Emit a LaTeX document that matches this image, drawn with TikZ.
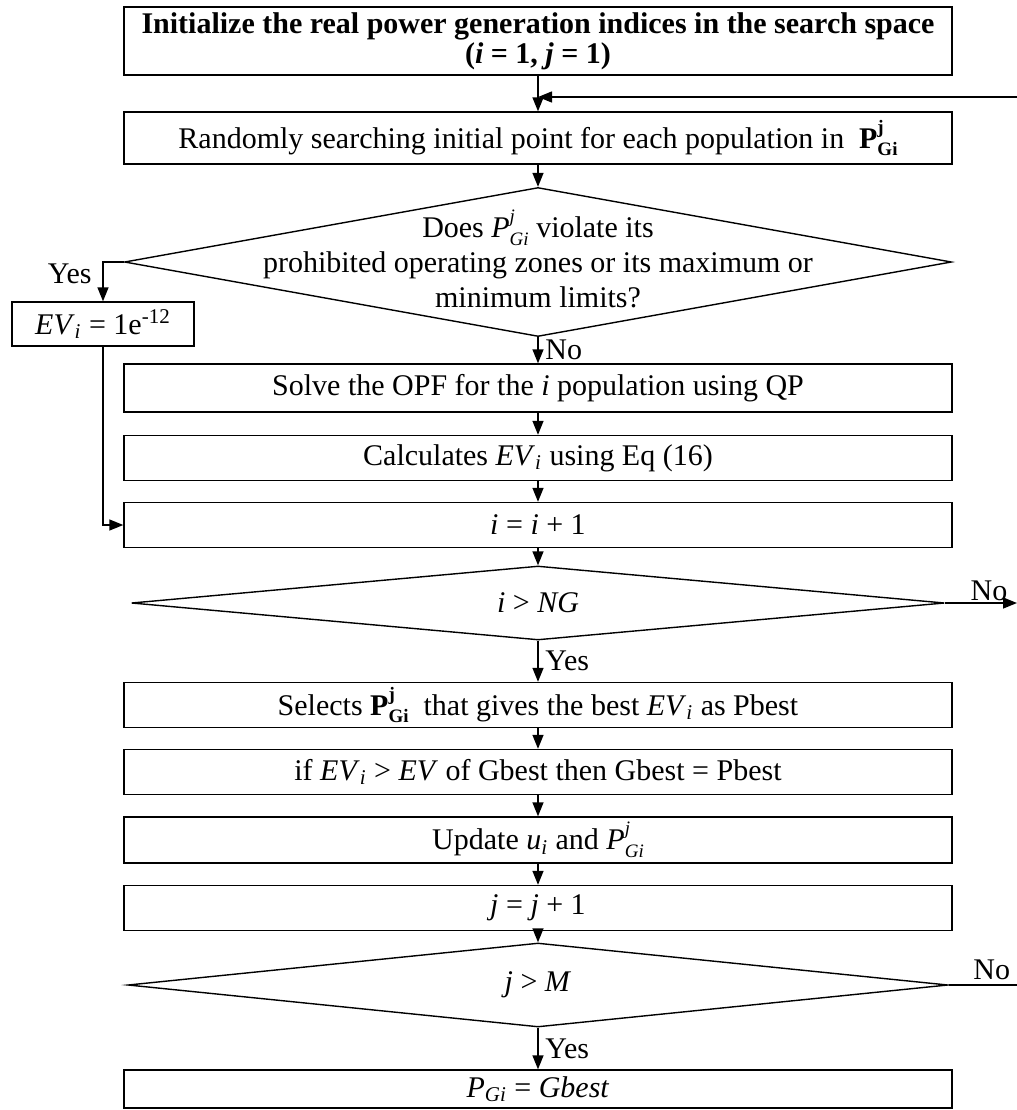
\documentclass[tikz,border=0pt]{standalone}
\usepackage{fontspec}
\setmainfont{Liberation Serif}
\usetikzlibrary{shapes.geometric,arrows.meta}

\newcommand{\supsub}[2]{\rlap{\raisebox{0.5em}{\fontsize{9.5}{10}\selectfont #1}}\raisebox{-0.25em}{\fontsize{9.5}{10}\selectfont #2}}
\newcommand{\vsub}[3]{\textit{#1}\supsub{\textit{#3}}{\textit{#2}}}
\newcommand{\PGb}{\textbf{P}\supsub{\textbf{j}}{\textbf{Gi}}}
\newcommand{\EVi}{\textit{EV}\textsubscript{\textit{i}}}

\begin{document}
\begin{tikzpicture}[x=0.5pt,y=-0.5pt,
    font=\fontsize{15}{17}\selectfont,
    line width=0.7pt,
    >={Triangle[length=7pt,width=5.5pt]},
    procbox/.style={draw, minimum width=414pt, inner sep=0pt},
    decbox/.style={draw, diamond, inner sep=0pt}]
  \useasboundingbox (0,0) rectangle (1017,1110);

  \node[procbox, minimum height=34pt, align=center,
        font=\fontsize{15}{15}\selectfont\bfseries] (init) at (538,41)
        {Initialize the real power generation indices in the search space\\
         (\textit{i} = 1, \textit{j} = 1)};
  \node[procbox, minimum height=26pt] (rand) at (538,138)
        {Randomly searching initial point for each population in\ \ \PGb};
  \node[decbox, minimum width=413.5pt, minimum height=74.5pt,
        label={[align=center, font=\fontsize{15}{17.5}\selectfont, yshift=1.5pt]center:Does \vsub{P}{Gi}{j} violate its\\
         prohibited operating zones or its maximum or\\
         minimum limits?}] (viol) at (538,262) {};
  \node[draw, minimum width=91pt, minimum height=22pt, inner sep=0pt] (pen) at (103,324)
        {\EVi\ = 1e\textsuperscript{-12}};
  \node[procbox, minimum height=24pt] (opf) at (538,388)
        {Solve the OPF for the \textit{i} population using QP};
  \node[procbox, minimum height=22.5pt] (calc) at (538,458)
        {Calculates \EVi\ using Eq (16)};
  \node[procbox, minimum height=22.5pt] (inci) at (538,525)
        {\textit{i} = \textit{i} + 1};
  \node[decbox, minimum width=406.5pt, minimum height=37pt,
        label={center:\textit{i} > \textit{NG}}] (ng) at (538,603) {};
  \node[procbox, minimum height=22.5pt] (pbest) at (538,705)
        {Selects \PGb\ \ that gives the best \EVi\ as Pbest};
  \node[procbox, minimum height=22.5pt] (gbest) at (538,772)
        {if \EVi\ > \textit{EV} of Gbest then Gbest = Pbest};
  \node[procbox, minimum height=23pt] (upd) at (538,840)
        {Update \textit{u}\textsubscript{\textit{i}} and \vsub{P}{Gi}{j}};
  \node[procbox, minimum height=22.5pt] (incj) at (538,908)
        {\textit{j} = \textit{j} + 1};
  \node[decbox, minimum width=410pt, minimum height=42pt,
        label={center:\textit{j} > \textit{M}}] (jm) at (538,985) {};
  \node[procbox, minimum height=19pt] (res) at (538,1089)
        {\textit{P}\textsubscript{\textit{Gi}} = \textit{Gbest}};

  \coordinate (back) at (1017,97);
  \coordinate (outng) at (1017,603);
  \coordinate (outjm) at (1017,985);

  \draw[->] (init) -- (rand);
  \draw[->] (back) -- (back -| init.south);
  \draw[->] (rand) -- (viol);
  \draw[->] (viol.west) -| node[pos=0.5, anchor=north east, xshift=-2pt, yshift=3pt] {Yes} (pen.north);
  \draw[->] (viol) -- node[right] {No} (opf);
  \draw[->] (pen.south) |- (inci.west);
  \draw[->] (opf) -- (calc);
  \draw[->] (calc) -- (inci);
  \draw[->] (inci) -- (ng);
  \draw[->] (ng.east) -- node[pos=0.61, above, inner sep=1pt] {No} (outng);
  \draw[->] (ng) -- node[right] {Yes} (pbest);
  \draw[->] (pbest) -- (gbest);
  \draw[->] (gbest) -- (upd);
  \draw[->] (upd) -- (incj);
  \draw[->] (incj) -- (jm);
  \draw (jm.east) -- node[pos=0.63, above, inner sep=2.5pt] {No} (outjm);
  \draw[->] (jm) -- node[right] {Yes} (res);
\end{tikzpicture}
\end{document}
